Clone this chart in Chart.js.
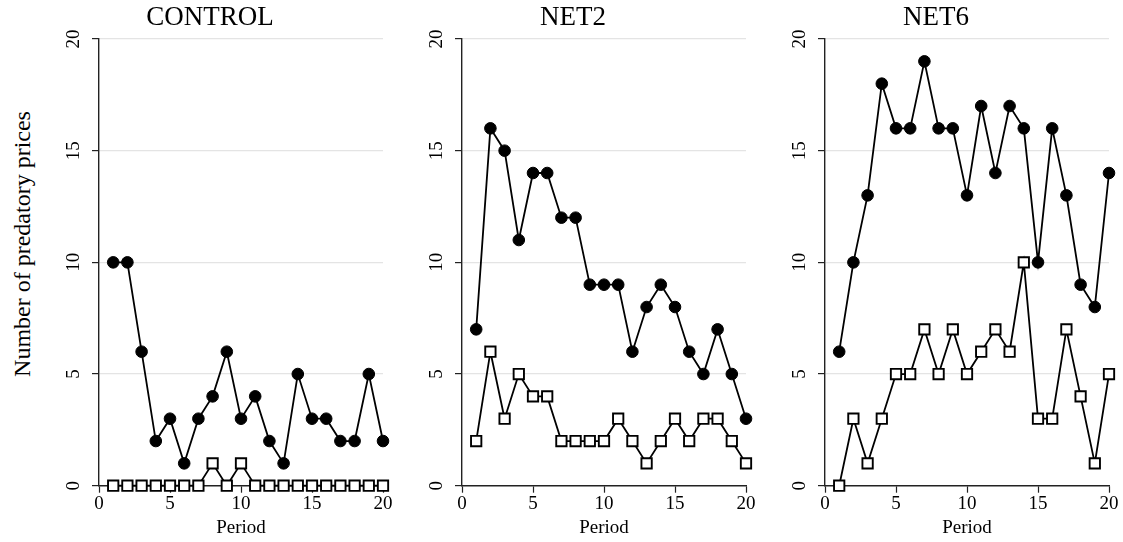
<!DOCTYPE html>
<html>
<head>
<meta charset="utf-8">
<script src="https://cdn.jsdelivr.net/npm/chart.js@4.4.1/dist/chart.umd.min.js"></script>
<style>
body { margin:0; background:#fff; width:1123px; height:542px; overflow:hidden; position:relative; font-family:"Liberation Serif", serif; }
.panel { position:absolute; top:0; width:360px; height:542px; }
#ytitle {
    position:absolute; left:22px; top:244px;
    transform:translate(-50%, -50%) rotate(-90deg);
    white-space:nowrap; font-size:24px; color:#000;
}
</style>
</head>
<body>
<div id="ytitle">Number of predatory prices</div>
<div class="panel" style="left:37px"><canvas id="control"></canvas></div>
<div class="panel" style="left:400px"><canvas id="net2"></canvas></div>
<div class="panel" style="left:763px"><canvas id="net6"></canvas></div>
<script>
// periods on the x axis
const periods = [1,2,3,4,5,6,7,8,9,10,11,12,13,14,15,16,17,18,19,20];

// filled circles
const controlHigh = [10,10,6,2,3,1,3,4,6,3,4,2,1,5,3,3,2,2,5,2];
const net2High    = [7,16,15,11,14,14,12,12,9,9,9,6,8,9,8,6,5,7,5,3];
const net6High    = [6,10,13,18,16,16,19,16,16,13,17,14,17,16,10,16,13,9,8,14];

// hollow squares
const controlLow = [0,0,0,0,0,0,0,1,0,1,0,0,0,0,0,0,0,0,0,0];
const net2Low    = [2,6,3,5,4,4,2,2,2,2,3,2,1,2,3,2,3,3,2,1];
const net6Low    = [0,3,1,3,5,5,7,5,7,5,6,7,6,10,3,3,7,4,1,5];

const panelTitles = ['CONTROL', 'NET2', 'NET6'];
const FONT = 'Liberation Serif';

function toPoints(vals){
    return vals.map((v, i) => ({x: periods[i], y: v}));
}

function makePanel(id, title, high, low){
    return new Chart(document.getElementById(id), {
        type: 'line',
        data: {
            datasets: [{
                data: toPoints(high),
                borderColor: '#000',
                borderWidth: 1.8,
                pointStyle: 'circle',
                pointRadius: 5.8,
                pointBackgroundColor: '#000',
                pointBorderColor: '#000',
                pointBorderWidth: 1,
                tension: 0,
                clip: false
            }, {
                data: toPoints(low),
                borderColor: '#000',
                borderWidth: 1.8,
                pointStyle: 'rect',
                pointRadius: 7.3,
                pointBackgroundColor: '#fff',
                pointBorderColor: '#000',
                pointBorderWidth: 1.9,
                tension: 0,
                clip: false
            }]
        },
        options: {
            responsive: true,
            maintainAspectRatio: false,
            animation: false,
            events: [],
            layout: { padding: { left: 0, right: 14, top: 0, bottom: 0 } },
            plugins: {
                legend: { display: false },
                tooltip: { enabled: false },
                title: {
                    display: true,
                    text: title,
                    color: '#000',
                    font: { family: FONT, size: 27, weight: 'normal', lineHeight: 1.2 },
                    padding: { top: 2, bottom: 4.6 }
                }
            },
            scales: {
                x: {
                    type: 'linear',
                    min: 0, max: 20,
                    afterFit: s => { s.height = 56.3; },
                    ticks: {
                        stepSize: 5, color: '#000', padding: 0, maxRotation: 0,
                        font: { family: FONT, size: 19 }
                    },
                    grid: { drawOnChartArea: false, drawTicks: true, tickLength: 7, tickColor: '#222', tickWidth: 1.2 },
                    border: { color: '#222', width: 1.4 },
                    title: {
                        display: true, text: 'Period', color: '#000',
                        font: { family: FONT, size: 19 },
                        padding: { top: 0, bottom: 3 }
                    }
                },
                y: {
                    min: 0, max: 20,
                    afterFit: s => { s.width = 62; },
                    ticks: {
                        stepSize: 5, color: '#000', padding: 8,
                        minRotation: 90, maxRotation: 90, crossAlign: 'center',
                        font: { family: FONT, size: 19 }
                    },
                    grid: {
                        color: c => c.tick && c.tick.value === 0 ? 'rgba(0,0,0,0)' : '#e4e4e4',
                        lineWidth: 1.2,
                        tickLength: 7, tickColor: '#222', tickWidth: 1.2
                    },
                    border: { color: '#222', width: 1.4 }
                }
            }
        }
    });
}

makePanel('control', panelTitles[0], controlHigh, controlLow);
makePanel('net2', panelTitles[1], net2High, net2Low);
makePanel('net6', panelTitles[2], net6High, net6Low);
</script>
</body>
</html>
